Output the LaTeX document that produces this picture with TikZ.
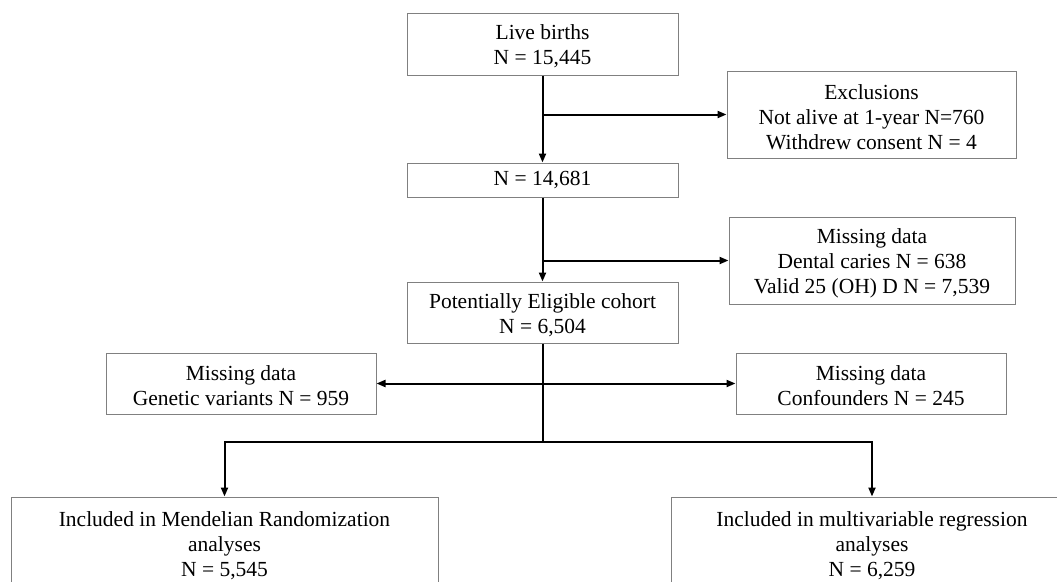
\documentclass[tikz,border=0pt]{standalone}
\usepackage{fontspec}
\setmainfont{Liberation Serif}
\usetikzlibrary{arrows.meta}
\newcommand\tstrut{\rule{0pt}{20pt}}
\tikzset{
  box/.style={draw=black!50, line width=1pt, fill=white, inner sep=0pt, align=center,
    font=\fontsize{21.5}{25}\selectfont},
  conn/.style={draw=black, line width=2pt},
  arr/.style={conn, -{Triangle[length=9pt,width=7pt]}}
}
\begin{document}
\begin{tikzpicture}[x=1pt,y=-1pt]
\useasboundingbox (0,0) rectangle (1057,581);
\clip (0,0) rectangle (1057,581);
\fill[white] (0,0) rectangle (1057,581);

\node[box, minimum width=271pt, minimum height=62pt] (live) at (542.5,44) {\tstrut Live births\\N = 15,445};
\node[box, minimum width=289pt, minimum height=87pt] (excl) at (871.5,114.5) {\tstrut Exclusions\\Not alive at 1-year N=760\\Withdrew consent N = 4};
\node[box, minimum width=271pt, minimum height=34pt] (n2) at (542.5,180) {N = 14,681};
\node[box, minimum width=286pt, minimum height=87pt] (miss1) at (872,260.5) {\tstrut Missing data\\Dental caries N = 638\\Valid 25 (OH) D N = 7,539};
\node[box, minimum width=271pt, minimum height=61pt] (elig) at (542.5,312.5) {\tstrut Potentially Eligible cohort\\N = 6,504};
\node[box, minimum width=270pt, minimum height=61pt] (gen) at (241,383.5) {\tstrut Missing data\\Genetic variants N = 959};
\node[box, minimum width=270pt, minimum height=61pt] (conf) at (871,383.5) {\tstrut Missing data\\Confounders N = 245};
\node[box, minimum width=427pt, minimum height=92pt] (mr) at (224.5,543) {\tstrut Included in Mendelian Randomization\\analyses\\N = 5,545};
\node[box, minimum width=402pt, minimum height=92pt] (mv) at (872,543) {\tstrut Included in multivariable regression\\analyses\\N = 6,259};

\coordinate (b1) at (542.5,114.5);
\coordinate (b2) at (542.5,260.5);
\coordinate (b3) at (542.5,383.5);
\coordinate (b4) at (542.5,442);

\draw[arr] (live.south) -- (n2.north);
\draw[arr] (b1) -- (excl.west);
\draw[arr] (n2.south) -- (elig.north);
\draw[arr] (b2) -- (miss1.west);
\draw[conn] (elig.south) -- (b4);
\draw[arr] (b3) -- (gen.east);
\draw[arr] (b3) -- (conf.west);
\draw[arr] (b4) -| (mr.north);
\draw[arr] (b4) -| (mv.north);
\end{tikzpicture}
\end{document}
